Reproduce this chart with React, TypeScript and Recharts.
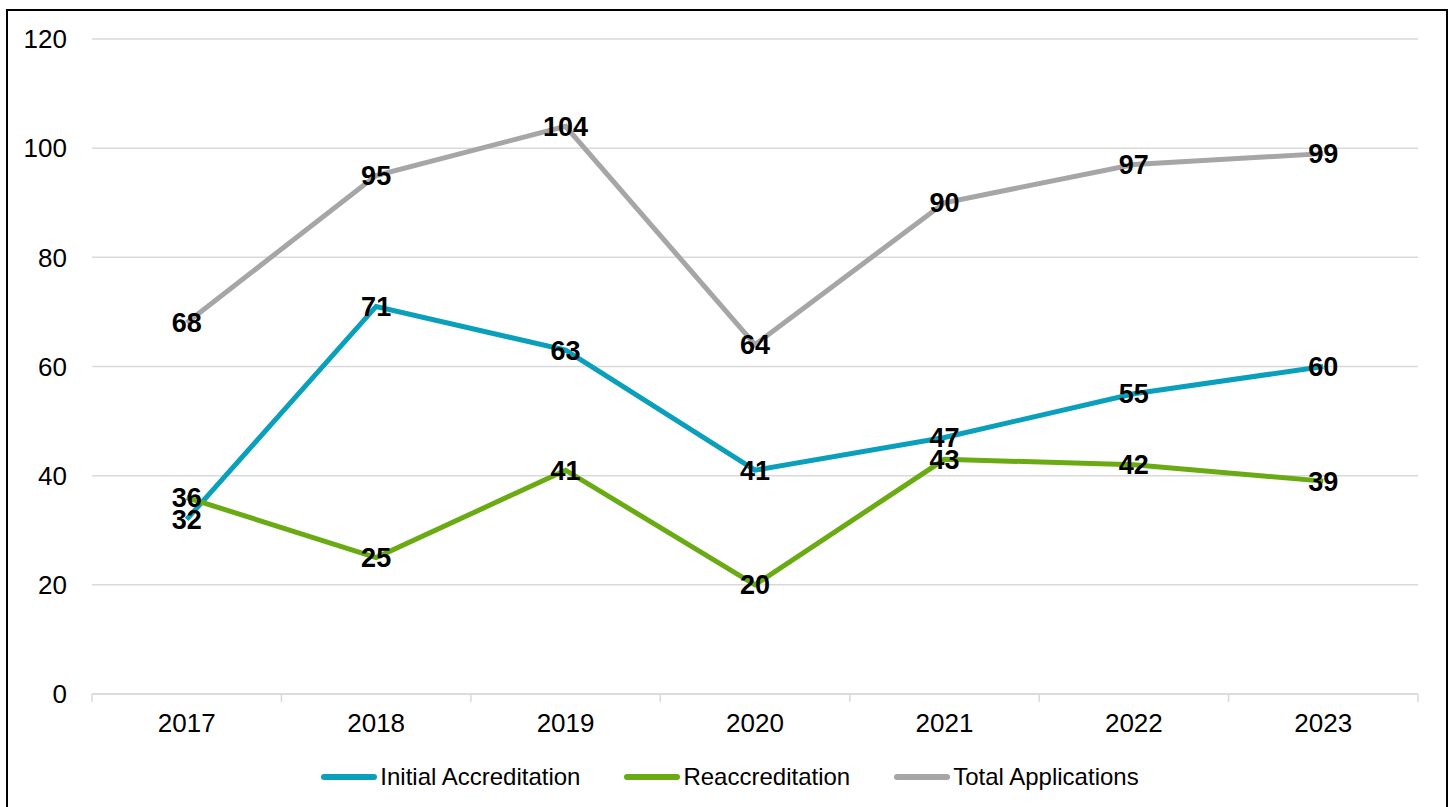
import React from 'react';
import { LineChart, Line, XAxis, YAxis, CartesianGrid, Legend, LabelList } from 'recharts';

const years = ['2017', '2018', '2019', '2020', '2021', '2022', '2023'];
const initialAccreditation = [32, 71, 63, 41, 47, 55, 60];
const reaccreditation = [36, 25, 41, 20, 43, 42, 39];
const totalApplications = [68, 95, 104, 64, 90, 97, 99];
const yTicks = [0, 20, 40, 60, 80, 100, 120];

const seriesInfo = [
  { key: 'initial', name: 'Initial Accreditation', color: '#0aa0bc' },
  { key: 'reaccred', name: 'Reaccreditation', color: '#6aaa12' },
  { key: 'total', name: 'Total Applications', color: '#a6a6a6' },
];

const data = years.map((y, i) => ({
  x: i + 0.5,
  year: y,
  initial: initialAccreditation[i],
  reaccred: reaccreditation[i],
  total: totalApplications[i],
}));

const xTicks: number[] = [];
for (let i = 0; i <= years.length; i++) {
  xTicks.push(i);
  if (i < years.length) xTicks.push(i + 0.5);
}

const FONT = '"Liberation Sans", Arial, Helvetica, sans-serif';

const XTick = (props: any) => {
  const { x, y, payload } = props;
  const v = payload.value;
  if (Number.isInteger(v)) {
    return <line x1={x} x2={x} y1={y - 20} y2={y - 12} stroke="#d9d9d9" strokeWidth={1.5} />;
  }
  return (
    <text x={x} y={y} dy="0.71em" textAnchor="middle" fontSize={26} fill="#000" fontFamily={FONT}>
      {years[Math.floor(v)]}
    </text>
  );
};

const LegendContent = () => (
  <div
    style={{
      height: 30,
      display: 'flex',
      justifyContent: 'center',
      alignItems: 'center',
      fontFamily: FONT,
      fontSize: 24,
      color: '#000',
      paddingLeft: 34,
    }}
  >
    {seriesInfo.map((s, i) => (
      <div key={s.key} style={{ display: 'flex', alignItems: 'center', marginLeft: i === 0 ? 0 : 44 }}>
        <svg width={56} height={10} style={{ display: 'block' }}>
          <line x1={3} x2={53} y1={5} y2={5} stroke={s.color} strokeWidth={6} strokeLinecap="round" />
        </svg>
        <span style={{ marginLeft: 3, whiteSpace: 'nowrap' }}>{s.name}</span>
      </div>
    ))}
  </div>
);

export default function App() {
  return (
    <div
      style={{
        position: 'absolute',
        left: 6,
        top: 9,
        width: 1442,
        height: 804,
        border: '2px solid #000',
        boxSizing: 'border-box',
        background: '#fff',
        fontFamily: FONT,
      }}
    >
      <LineChart
        width={1438}
        height={800}
        data={data}
        margin={{ top: 28, right: 28, left: 0, bottom: 19 }}
      >
        <CartesianGrid vertical={false} stroke="#d9d9d9" strokeWidth={1.5} />
        <XAxis
          dataKey="x"
          type="number"
          domain={[0, 7]}
          ticks={xTicks}
          interval={0}
          tickLine={false}
          tickSize={8}
          tickMargin={12}
          height={68}
          axisLine={{ stroke: '#d9d9d9', strokeWidth: 1.5 }}
          tick={<XTick />}
        />
        <YAxis
          domain={[0, 120]}
          ticks={yTicks}
          width={84}
          axisLine={false}
          tickLine={false}
          tickSize={0}
          tickMargin={25}
          tick={{ fontSize: 26, fill: '#000', fontFamily: FONT }}
        />
        <Legend verticalAlign="bottom" content={<LegendContent />} />
        {seriesInfo.map((s) => (
          <Line
            key={s.key}
            type="linear"
            dataKey={s.key}
            name={s.name}
            stroke={s.color}
            strokeWidth={5}
            dot={false}
            activeDot={false}
            isAnimationActive={false}
          >
            <LabelList
              dataKey={s.key}
              position="center"
              fill="#000"
              fontSize={27}
              fontWeight="bold"
              fontFamily={FONT}
            />
          </Line>
        ))}
      </LineChart>
    </div>
  );
}
